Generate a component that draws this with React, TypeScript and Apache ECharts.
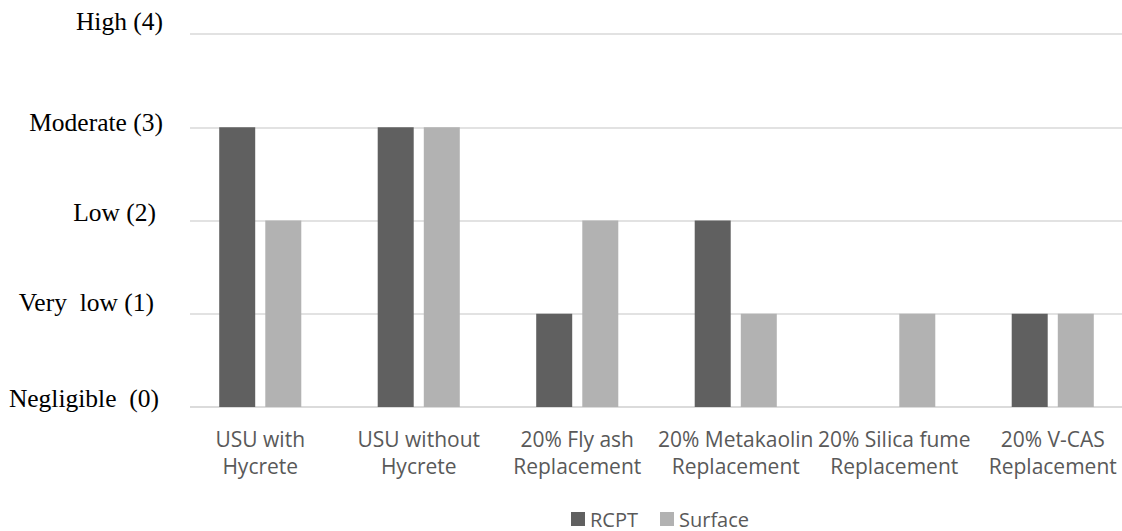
import React, { useEffect, useRef } from "react";
import * as echarts from "echarts";

const categories = [
  "USU with\nHycrete",
  "USU without\nHycrete",
  "20% Fly ash\nReplacement",
  "20% Metakaolin\nReplacement",
  "20% Silica fume\nReplacement",
  "20% V-CAS\nReplacement",
];
const rcpt = [3, 3, 1, 2, 0, 1];
const surface = [2, 3, 2, 1, 1, 1];
const yTickLabels = ["Negligible  (0)", "Very  low (1)", "Low (2)", "Moderate (3)", "High (4)"];
// per-label [rightPad, bottomPad] to mimic free-placed text boxes
const yLabelPads: number[][] = [
  [4, 18],
  [9, 22],
  [7, 16],
  [0, 10],
  [0, 26],
];

export default function App() {
  const ref = useRef<HTMLDivElement>(null);
  useEffect(() => {
    document.body.style.margin = "0";
    document.body.style.overflow = "hidden";
    const chart = echarts.init(ref.current!, null, { renderer: "svg" });
    const rich: Record<string, any> = {};
    yLabelPads.forEach((p, i) => {
      rich["r" + i] = {
        fontFamily: "Liberation Serif",
        fontSize: 25.5,
        color: "#000",
        padding: [0, p[0], p[1], 0],
      };
    });
    chart.setOption({
      animation: false,
      backgroundColor: "#fff",
      grid: { left: 181, top: 34, width: 951, bottom: 124, containLabel: false },
      legend: {
        left: 566,
        top: 504,
        itemWidth: 14,
        itemHeight: 14,
        itemGap: 22,
        icon: "rect",
        textStyle: { fontFamily: "Open Sans", fontSize: 20, color: "#595959" },
        data: ["RCPT", "Surface"],
      },
      xAxis: {
        type: "category",
        data: categories,
        axisLine: { lineStyle: { color: "#d9d9d9", width: 1.5 } },
        axisTick: { show: false },
        axisLabel: {
          interval: 0,
          margin: 18,
          fontFamily: "Open Sans",
          fontSize: 21,
          lineHeight: 27,
          color: "#595959",
        },
      },
      yAxis: {
        type: "value",
        min: 0,
        max: 4,
        interval: 1,
        axisLine: { show: false },
        axisTick: { show: false },
        splitLine: { lineStyle: { color: "#d9d9d9", width: 1.5 } },
        axisLabel: {
          margin: 18,
          formatter: (v: number) => `{r${v}|${yTickLabels[v]}}`,
          rich,
        },
      },
      series: [
        {
          name: "RCPT",
          type: "bar",
          data: rcpt,
          barWidth: 36,
          barGap: "28%",
          itemStyle: { color: "#606060" },
        },
        {
          name: "Surface",
          type: "bar",
          data: surface,
          barWidth: 36,
          itemStyle: { color: "#b2b2b2" },
        },
      ],
      graphic: [
        {
          type: "rect",
          left: 180,
          top: 25,
          shape: { width: 10, height: 390 },
          style: { fill: "#fff" },
          z: 100,
        },
      ],
    });
    return () => chart.dispose();
  }, []);
  return (
    <div
      ref={ref}
      style={{ position: "absolute", left: 0, top: 0, width: 1140, height: 531 }}
    />
  );
}
